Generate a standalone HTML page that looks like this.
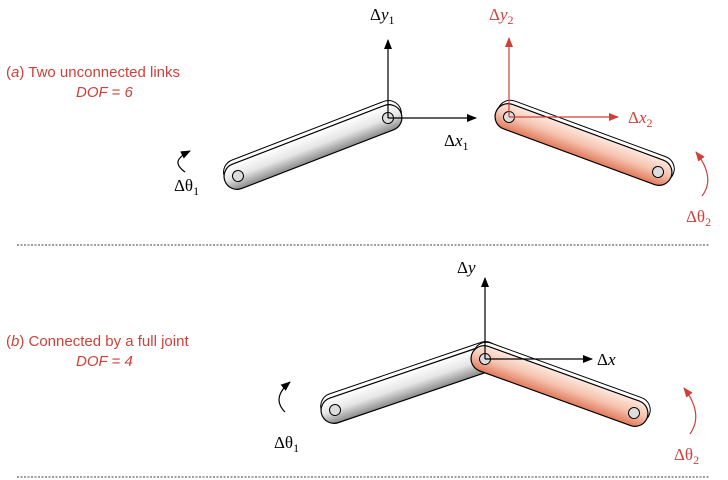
<!DOCTYPE html>
<html><head><meta charset="utf-8"><style>
body{margin:0;background:#fff}
svg{display:block}
.t{font-family:"Liberation Sans",sans-serif;font-size:15px;fill:#d0403a}
.s{font-family:"Liberation Serif",serif;font-size:17px}
</style></head><body>
<svg width="728" height="480" viewBox="0 0 728 480">
<defs>
<linearGradient id="g" x1="0" y1="0" x2="0" y2="1"><stop offset="0" stop-color="#fff"/><stop offset="0.5" stop-color="#e6e6e6"/><stop offset="1" stop-color="#8a8a8a"/></linearGradient>
<linearGradient id="r" x1="0" y1="0" x2="0" y2="1"><stop offset="0" stop-color="#fde8df"/><stop offset="0.5" stop-color="#f6c2ae"/><stop offset="1" stop-color="#e07a5c"/></linearGradient>
<marker id="ab" markerWidth="10" markerHeight="8" refX="9" refY="4" orient="auto" markerUnits="userSpaceOnUse"><path d="M0,0L10,4L0,8z" fill="#000"/></marker>
<marker id="ar" markerWidth="10" markerHeight="8" refX="9" refY="4" orient="auto" markerUnits="userSpaceOnUse"><path d="M0,0L10,4L0,8z" fill="#d0403a"/></marker>
</defs>
<g id="links"></g>
<g stroke-width="1.2" fill="none">
<line x1="388" y1="118" x2="388" y2="40" stroke="#000" marker-end="url(#ab)"/>
<line x1="388" y1="118" x2="476" y2="118" stroke="#000" marker-end="url(#ab)"/>
<line x1="509" y1="117" x2="509" y2="38" stroke="#d0403a" marker-end="url(#ar)"/>
<line x1="509" y1="117" x2="618" y2="117" stroke="#d0403a" marker-end="url(#ar)"/>
<line x1="485" y1="359" x2="485" y2="278" stroke="#000" marker-end="url(#ab)"/>
<line x1="485" y1="359" x2="592" y2="359" stroke="#000" marker-end="url(#ab)"/>
<path d="M185,172 C174,164 176,158 190,151" stroke="#000" marker-end="url(#ab)"/>
<path d="M702,196 Q716,178 696,152" stroke="#d0403a" marker-end="url(#ar)"/>
<path d="M285,412 Q271,398 290,382" stroke="#000" marker-end="url(#ab)"/>
<path d="M690,434 Q704,414 684,388" stroke="#d0403a" marker-end="url(#ar)"/>
</g>
<line x1="17" y1="245" x2="710" y2="245" stroke="#000" stroke-width="0.8" stroke-dasharray="2,1.5"/>
<line x1="17" y1="477" x2="710" y2="477" stroke="#000" stroke-width="0.8" stroke-dasharray="2,1.5"/>
<text class="t" x="6" y="77">(<tspan font-style="italic">a</tspan>)  Two unconnected links</text>
<text class="t" x="76" y="97" font-style="italic">DOF = 6</text>
<text class="t" x="6" y="346">(<tspan font-style="italic">b</tspan>)  Connected by a full joint</text>
<text class="t" x="76" y="366" font-style="italic">DOF = 4</text>
<text class="s" x="370" y="20">Δ<tspan font-style="italic">y</tspan><tspan font-size="12" dy="4">1</tspan></text>
<text class="s" x="444" y="146">Δ<tspan font-style="italic">x</tspan><tspan font-size="12" dy="4">1</tspan></text>
<text class="s" x="174" y="191">Δθ<tspan font-size="12" dy="4">1</tspan></text>
<text class="s" x="489" y="20" fill="#d0403a">Δ<tspan font-style="italic">y</tspan><tspan font-size="12" dy="4">2</tspan></text>
<text class="s" x="628" y="123" fill="#d0403a">Δ<tspan font-style="italic">x</tspan><tspan font-size="12" dy="4">2</tspan></text>
<text class="s" x="686" y="222" fill="#d0403a">Δθ<tspan font-size="12" dy="4">2</tspan></text>
<text class="s" x="457" y="273">Δ<tspan font-style="italic">y</tspan></text>
<text class="s" x="597" y="365">Δ<tspan font-style="italic">x</tspan></text>
<text class="s" x="274" y="448">Δθ<tspan font-size="12" dy="4">1</tspan></text>
<text class="s" x="674" y="460" fill="#d0403a">Δθ<tspan font-size="12" dy="4">2</tspan></text>
</svg>
<script>
const L=[[238,176,388,118,'g','link-1'],[658,172,509,117,'r','link-2'],[335,410,485,359,'g','link-3'],[634,413,485,359,'r','link-4']];
const ns='http://www.w3.org/2000/svg';
const host=document.getElementById('links');
L.forEach(([x1,y1,x2,y2,f,name])=>{
 const len=Math.hypot(x2-x1,y2-y1),ang=Math.atan2(y2-y1,x2-x1)*180/Math.PI;
 const g=document.createElementNS(ns,'g');
 
 
 g.setAttribute('transform',`translate(${x1},${y1}) rotate(${ang})`);
 const flip=Math.abs(ang)>90?1:-1;
 g.innerHTML=`<rect x="-14" y="${-13+flip*4}" width="${len+28}" height="26" rx="13" fill="#fff" stroke="#000" stroke-width="1" transform="translate(${flip*-1},0)"/>
 <rect x="-14" y="-13" width="${len+28}" height="26" rx="13" fill="url(#${f})" stroke="#000" stroke-width="1.2" transform="rotate(${flip>0?180:0},${len/2},0)"/>
 <circle cx="0" cy="0" r="5.5" fill="#ddd" stroke="#000"/><circle cx="${len}" cy="0" r="5.5" fill="#ddd" stroke="#000"/>`;
 host.appendChild(g);
});
</script>
</body></html>
